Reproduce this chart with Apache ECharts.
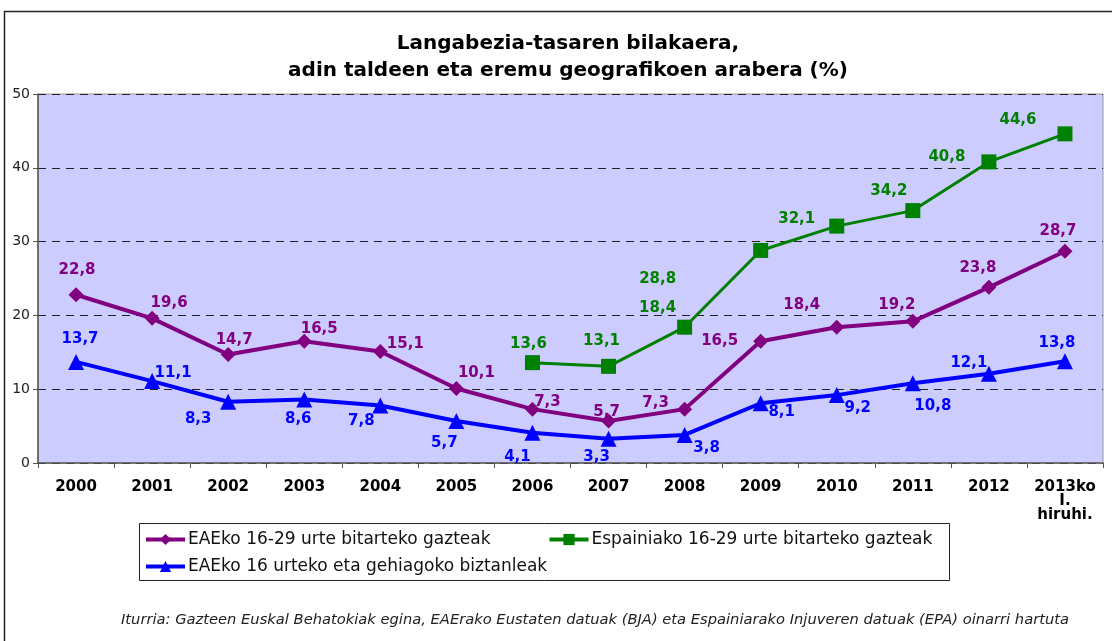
<!DOCTYPE html>
<html>
<head>
<meta charset="utf-8">
<script src="https://cdn.jsdelivr.net/npm/echarts@6/dist/echarts.min.js"></script>
<style>
  html, body { margin: 0; padding: 0; background: #fff; }
  #main { width: 1112px; height: 641px; }
</style>
</head>
<body>
<div id="main"></div>
<script>
  // Data
  var years = ['2000', '2001', '2002', '2003', '2004', '2005', '2006', '2007',
               '2008', '2009', '2010', '2011', '2012', '2013ko\nI.\nhiruhi.'];
  var eaeYoung = [22.8, 19.6, 14.7, 16.5, 15.1, 10.1, 7.3, 5.7, 7.3, 16.5, 18.4, 19.2, 23.8, 28.7];
  var spainYoung = [null, null, null, null, null, null, 13.6, 13.1, 18.4, 28.8, 32.1, 34.2, 40.8, 44.6];
  var eaeAll = [13.7, 11.1, 8.3, 8.6, 7.8, 5.7, 4.1, 3.3, 3.8, 8.1, 9.2, 10.8, 12.1, 13.8];

  var names = [
    'EAEko 16-29 urte bitarteko gazteak',
    'Espainiako 16-29 urte bitarteko gazteak',
    'EAEko 16 urteko eta gehiagoko biztanleak'
  ];

  // label placement (pixel offsets from the point), styling only
  var purpleOff = [[1,-25],[17,-15],[6,-14],[15,-12],[25,-7],[20,-15],[15,-7],[-2,-9],[-29,-6],[-41,0],[-35,-22],[-16,-16],[-11,-19],[-7,-20]];
  var greenOff = [null,null,null,null,null,null,[-4,-19],[-7,-25],[-27,-19],[-103,29],[-40,-7],[-24,-19],[-42,-5],[-47,-14]];
  var blueOff = [[4,-23],[21,-8],[-30,17],[-6,20],[-19,16],[-12,22],[-15,24],[-12,18],[22,13],[21,9],[21,13],[20,23],[-20,-11],[-8,-18]];

  var FONT = '"DejaVu Sans", Verdana, sans-serif';

  function withLabels(values, offsets) {
    return values.map(function (v, i) {
      if (v == null) return null;
      return { value: v, label: { offset: offsets[i] } };
    });
  }

  function lineSeries(name, values, offsets, color, symbol, size, width) {
    return {
      name: name,
      type: 'line',
      data: withLabels(values, offsets),
      symbol: symbol,
      symbolSize: size,
      lineStyle: { color: color, width: width },
      itemStyle: { color: color },
      label: {
        show: true,
        position: 'inside',
        color: color,
        fontFamily: FONT,
        fontWeight: 'bold',
        fontSize: 15,
        formatter: function (p) { return String(p.value).replace('.', ','); }
      },
      animation: false
    };
  }

  var chart = echarts.init(document.getElementById('main'));

  var legendText = { fontFamily: FONT, fontSize: 17, color: '#111', padding: [0, 0, 0, -2] };

  var option = {
    backgroundColor: '#fff',
    grid: {
      left: 38, right: 9, top: 94, bottom: 178,
      show: true,
      backgroundColor: '#ccccff',
      borderColor: '#999',
      borderWidth: 1
    },
    xAxis: {
      type: 'category',
      data: years,
      boundaryGap: true,
      axisLine: { lineStyle: { color: '#555', width: 1.5 } },
      axisTick: { show: true, length: 5, lineStyle: { color: '#555' } },
      axisLabel: {
        color: '#000',
        fontFamily: FONT,
        fontWeight: 'bold',
        fontSize: 15,
        lineHeight: 14,
        margin: 17,
        interval: 0
      },
      splitLine: { show: false }
    },
    yAxis: {
      type: 'value',
      min: 0,
      max: 50,
      interval: 10,
      axisLine: { show: true, lineStyle: { color: '#555', width: 1.5 } },
      axisTick: { show: true, length: 5, lineStyle: { color: '#555' } },
      axisLabel: { color: '#222', fontFamily: FONT, fontSize: 14, margin: 8 },
      splitLine: { show: true, lineStyle: { color: '#222', type: [8, 6], width: 1 } }
    },
    legend: [{
      data: [names[0], names[1]],
      left: 144,
      top: 531,
      itemWidth: 39,
      itemHeight: 14,
      itemGap: 57,
      padding: 0,
      selectedMode: false,
      lineStyle: { width: 4 },
      textStyle: legendText
    }, {
      data: [names[2]],
      left: 144,
      top: 558,
      itemWidth: 39,
      itemHeight: 14,
      padding: 0,
      selectedMode: false,
      lineStyle: { width: 4 },
      textStyle: legendText
    }],
    graphic: [
      {
        type: 'rect',
        shape: { x: 4.5, y: 11.5, width: 1200, height: 700 },
        style: { fill: null, stroke: '#222', lineWidth: 1.5 },
        silent: true, z: -10
      },
      {
        type: 'rect',
        shape: { x: 139.5, y: 523.5, width: 810, height: 57 },
        style: { fill: '#fff', stroke: '#222', lineWidth: 1 },
        silent: true, z: -5
      },
      {
        type: 'text',
        x: 568, y: 30,
        style: {
          text: 'Langabezia-tasaren bilakaera,\nadin taldeen eta eremu geografikoen arabera (%)',
          font: 'bold 20px ' + FONT,
          lineHeight: 27,
          fill: '#000',
          align: 'center',
          verticalAlign: 'top'
        }
      },
      {
        type: 'text',
        x: 595, y: 620,
        style: {
          text: 'Iturria: Gazteen Euskal Behatokiak egina, EAErako Eustaten datuak (BJA) eta Espainiarako Injuveren datuak (EPA) oinarri hartuta',
          font: 'italic 14.7px ' + FONT,
          fill: '#222',
          align: 'center',
          verticalAlign: 'middle'
        }
      }
    ],
    series: [
      lineSeries(names[0], eaeYoung, purpleOff, '#800080', 'diamond', 15, 4),
      lineSeries(names[1], spainYoung, greenOff, '#008000', 'rect', 15, 3),
      lineSeries(names[2], eaeAll, blueOff, '#0000ff', 'triangle', 16, 4)
    ]
  };

  chart.setOption(option);
</script>
</body>
</html>
